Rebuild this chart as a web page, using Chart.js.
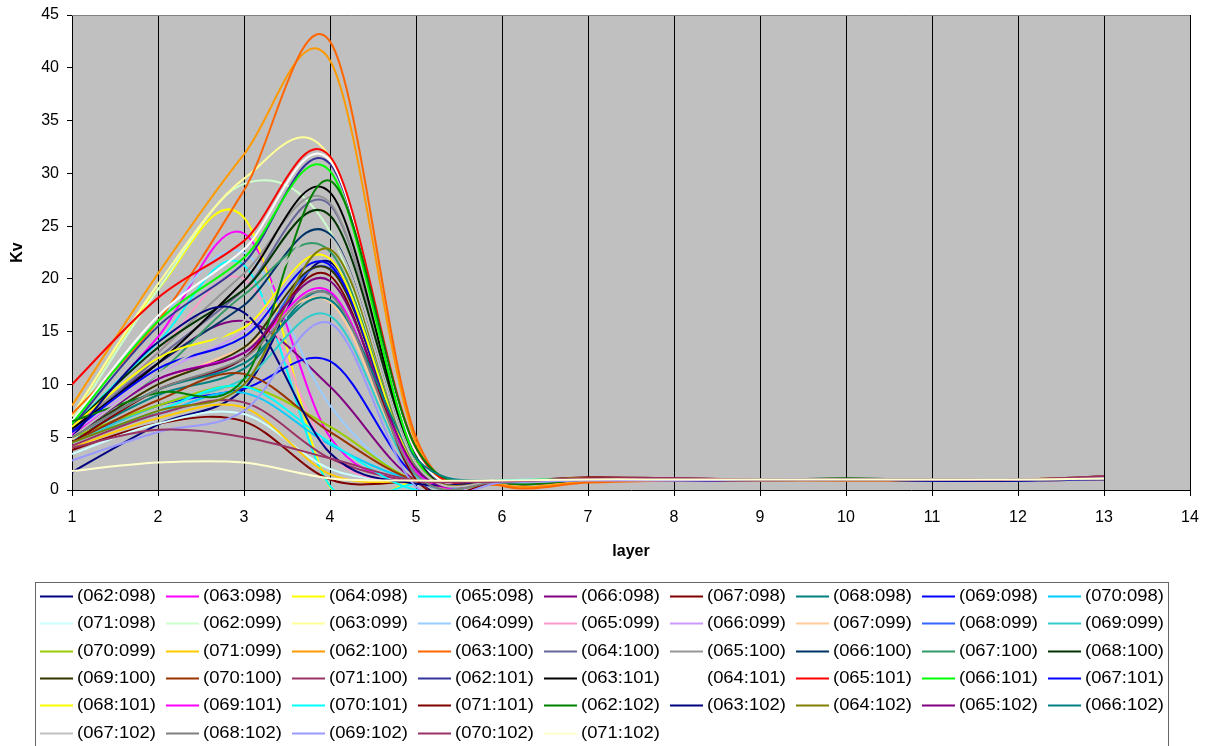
<!DOCTYPE html>
<html>
<head>
<meta charset="utf-8">
<script src="https://cdn.jsdelivr.net/npm/chart.js@4.4.1/dist/chart.umd.min.js"></script>
<style>
  html, body { margin: 0; padding: 0; background: #fff; }
  #wrap { width: 1206px; height: 746px; }
</style>
</head>
<body>
<div id="wrap"><canvas id="myChart" width="1206" height="746"></canvas></div>
<script>
// layers on the x axis
const layers = [1, 2, 3, 4, 5, 6, 7, 8, 9, 10, 11, 12, 13];
const xTicks = [1, 2, 3, 4, 5, 6, 7, 8, 9, 10, 11, 12, 13, 14];
const yTicks = [0, 5, 10, 15, 20, 25, 30, 35, 40, 45];

const seriesLabels = [
  '(062:098)', '(063:098)', '(064:098)', '(065:098)', '(066:098)', '(067:098)', '(068:098)', '(069:098)', '(070:098)', '(071:098)',
  '(062:099)', '(063:099)', '(064:099)', '(065:099)', '(066:099)', '(067:099)', '(068:099)', '(069:099)', '(070:099)', '(071:099)',
  '(062:100)', '(063:100)', '(064:100)', '(065:100)', '(066:100)', '(067:100)', '(068:100)', '(069:100)', '(070:100)', '(071:100)',
  '(062:101)', '(063:101)', '(064:101)', '(065:101)', '(066:101)', '(067:101)', '(068:101)', '(069:101)', '(070:101)', '(071:101)',
  '(062:102)', '(063:102)', '(064:102)', '(065:102)', '(066:102)', '(067:102)', '(068:102)', '(069:102)', '(070:102)', '(071:102)'
];

// Kv per layer, one array per series
const v062_098 = [1.7, 6.2, 9.6, 21.6, 1.2, 0.7, 0.9, 0.9, 0.9, 1.0, 0.9, 0.9, 1.1];
const v063_098 = [5.5, 14.5, 24.3, 5.0, 0.7, 0.8, 1.0, 1.0, 1.0, 1.0, 0.9, 0.9, 1.2];
const v064_098 = [7.0, 19.0, 25.8, 0.3, 0.8, 0.8, 1.1, 1.0, 0.9, 1.0, 0.9, 1.0, 1.2];
const v065_098 = [6.0, 14.0, 21.3, 0.4, 0.6, 0.8, 1.0, 1.0, 1.0, 0.9, 0.9, 0.9, 1.1];
const v066_098 = [5.5, 12.0, 16.0, 9.8, 0.9, 0.8, 1.1, 1.1, 1.0, 1.0, 1.0, 0.9, 1.1];
const v067_098 = [3.8, 6.3, 6.5, 1.0, 0.8, 0.8, 1.2, 1.1, 1.0, 1.0, 0.9, 0.9, 1.3];
const v068_098 = [4.8, 9.0, 11.5, 18.6, 1.6, 0.7, 1.0, 1.0, 0.9, 1.0, 1.0, 1.0, 1.1];
const v069_098 = [4.5, 8.0, 9.6, 12.2, 1.3, 0.9, 1.0, 0.9, 0.9, 1.0, 0.9, 0.9, 1.0];
const v070_098 = [4.8, 7.2, 9.2, 4.3, 0.9, 0.8, 1.0, 1.0, 1.0, 0.9, 0.9, 1.0, 1.1];
const v071_098 = [3.4, 6.3, 7.2, 2.0, 0.8, 0.9, 1.1, 1.0, 1.0, 1.0, 1.0, 1.0, 1.2];
const v062_099 = [6.5, 19.0, 29.0, 24.5, 1.2, 0.8, 1.0, 1.0, 1.0, 1.0, 0.9, 0.9, 1.1];
const v063_099 = [7.0, 19.5, 29.5, 31.5, 2.6, 0.8, 1.1, 1.0, 1.0, 1.0, 1.0, 1.0, 1.2];
const v064_099 = [6.5, 16.0, 22.5, 8.0, 0.8, 0.9, 1.0, 1.0, 0.9, 0.9, 0.9, 0.9, 1.1];
const v065_099 = [5.5, 13.0, 20.0, 3.5, 0.8, 0.8, 1.0, 1.0, 1.0, 1.0, 0.9, 0.9, 1.0];
const v066_099 = [5.3, 11.0, 15.0, 22.0, 1.8, 0.7, 1.0, 1.0, 1.0, 1.0, 1.0, 0.9, 1.2];
const v067_099 = [4.8, 10.0, 13.5, 17.8, 1.5, 0.8, 1.0, 1.0, 1.0, 1.0, 1.0, 1.0, 1.1];
const v068_099 = [5.0, 9.5, 12.5, 21.0, 1.8, 0.8, 1.0, 1.0, 1.0, 0.9, 0.9, 0.9, 1.0];
const v069_099 = [4.5, 8.0, 10.5, 16.5, 1.3, 0.8, 1.0, 1.0, 1.0, 1.0, 0.9, 0.9, 1.1];
const v070_099 = [5.0, 8.0, 9.8, 6.0, 0.9, 0.9, 1.1, 1.0, 1.0, 1.0, 1.0, 1.0, 1.3];
const v071_099 = [4.0, 6.8, 7.8, 1.5, 0.8, 0.8, 1.1, 1.0, 1.0, 1.0, 1.0, 0.9, 1.2];
const v062_100 = [8.0, 20.5, 31.8, 40.7, 4.5, 0.5, 0.8, 1.0, 1.0, 0.9, 0.9, 0.9, 1.0];
const v063_100 = [7.2, 16.0, 28.4, 42.5, 5.0, 0.4, 0.7, 0.9, 0.9, 0.9, 0.9, 0.9, 1.0];
const v064_100 = [5.5, 12.5, 19.0, 27.0, 3.0, 0.7, 1.0, 1.0, 1.0, 1.0, 0.9, 0.9, 1.1];
const v065_100 = [5.5, 13.0, 20.5, 27.2, 3.0, 0.8, 1.0, 1.0, 1.0, 1.0, 1.0, 0.9, 1.1];
const v066_100 = [5.5, 12.0, 17.5, 24.2, 2.5, 0.8, 1.0, 1.0, 1.0, 1.0, 1.0, 1.0, 1.1];
const v067_100 = [5.0, 11.0, 18.5, 22.6, 2.2, 0.8, 1.0, 1.0, 1.0, 1.0, 0.9, 0.9, 1.1];
const v068_100 = [6.0, 13.5, 19.0, 26.0, 3.2, 0.7, 1.0, 1.0, 1.0, 1.1, 1.0, 1.0, 1.2];
const v069_100 = [5.0, 10.0, 13.5, 20.9, 2.0, 0.8, 1.0, 1.0, 1.0, 1.0, 1.0, 1.0, 1.1];
const v070_100 = [4.5, 8.5, 11.0, 5.5, 0.9, 0.8, 1.1, 1.0, 1.0, 1.0, 1.0, 1.0, 1.2];
const v071_100 = [4.2, 7.2, 8.3, 3.0, 0.8, 0.8, 1.1, 1.1, 1.0, 1.0, 1.0, 1.0, 1.3];
const v062_101 = [6.0, 15.5, 21.5, 30.9, 3.5, 0.7, 1.0, 1.0, 1.0, 1.0, 0.9, 0.9, 1.1];
const v063_101 = [5.8, 12.0, 19.8, 28.2, 3.0, 0.7, 1.0, 1.0, 1.0, 1.0, 1.0, 1.0, 1.1];
const v064_101 = [6.5, 16.5, 22.8, 31.2, 3.6, 0.8, 1.0, 1.0, 1.0, 1.0, 1.0, 1.0, 1.2];
const v065_101 = [10.0, 18.2, 23.6, 31.6, 4.0, 0.7, 1.0, 1.0, 1.0, 1.0, 1.0, 1.0, 1.1];
const v066_101 = [6.3, 16.0, 22.0, 30.2, 3.0, 0.7, 1.0, 1.0, 1.0, 1.0, 1.0, 1.0, 1.1];
const v067_101 = [5.5, 11.5, 14.5, 21.3, 2.0, 0.8, 1.0, 1.0, 1.0, 1.0, 0.9, 0.9, 1.0];
const v068_101 = [6.0, 12.5, 15.4, 21.9, 2.0, 0.8, 1.0, 1.0, 1.0, 1.0, 1.0, 1.0, 1.2];
const v069_101 = [5.2, 10.5, 13.0, 18.8, 1.8, 0.8, 1.0, 1.0, 1.0, 1.0, 1.0, 1.0, 1.1];
const v070_101 = [4.5, 7.5, 9.8, 4.5, 0.0, 0.9, 1.0, 1.0, 1.0, 1.0, 1.0, 1.0, 1.1];
const v071_101 = [4.5, 9.5, 12.5, 20.3, 1.0, 0.8, 1.1, 1.0, 1.0, 1.0, 1.0, 1.0, 1.2];
const v062_102 = [6.5, 9.2, 10.5, 29.3, 4.0, 0.7, 1.0, 1.0, 1.0, 1.1, 1.0, 1.0, 1.1];
const v063_102 = [5.0, 14.0, 16.8, 3.5, 0.6, 0.8, 1.0, 1.0, 1.0, 1.0, 0.9, 0.9, 1.1];
const v064_102 = [4.5, 7.5, 10.0, 22.8, 2.5, 0.8, 1.0, 1.0, 1.0, 1.0, 1.0, 1.0, 1.1];
const v065_102 = [5.0, 10.5, 13.0, 19.8, 2.0, 0.8, 1.0, 1.0, 1.0, 1.0, 1.0, 1.0, 1.1];
const v066_102 = [5.0, 9.5, 12.0, 18.0, 3.0, 0.8, 1.0, 1.0, 1.0, 1.0, 1.0, 1.0, 1.1];
const v067_102 = [5.0, 11.0, 16.0, 24.0, 2.5, 0.8, 1.0, 1.0, 1.0, 1.0, 1.0, 1.0, 1.1];
const v068_102 = [5.0, 9.5, 12.5, 18.5, 1.5, 0.8, 1.0, 1.0, 1.0, 1.0, 1.0, 1.0, 1.0];
const v069_102 = [2.8, 5.5, 7.5, 15.8, 0.3, 0.7, 0.9, 0.9, 1.0, 1.0, 1.0, 1.0, 1.1];
const v070_102 = [4.0, 5.7, 5.0, 3.0, 0.9, 0.8, 1.1, 1.1, 1.0, 1.0, 1.0, 1.0, 1.3];
const v071_102 = [1.8, 2.6, 2.6, 1.1, 0.9, 0.9, 1.0, 1.0, 1.0, 1.0, 1.0, 1.0, 1.1];

const seriesValues = [
  v062_098, v063_098, v064_098, v065_098, v066_098, v067_098, v068_098, v069_098, v070_098, v071_098,
  v062_099, v063_099, v064_099, v065_099, v066_099, v067_099, v068_099, v069_099, v070_099, v071_099,
  v062_100, v063_100, v064_100, v065_100, v066_100, v067_100, v068_100, v069_100, v070_100, v071_100,
  v062_101, v063_101, v064_101, v065_101, v066_101, v067_101, v068_101, v069_101, v070_101, v071_101,
  v062_102, v063_102, v064_102, v065_102, v066_102, v067_102, v068_102, v069_102, v070_102, v071_102
];

// excel style line colours
const palette = [
  '#000080', '#FF00FF', '#FFFF00', '#00FFFF', '#800080', '#800000', '#008080', '#0000FF', '#00CCFF', '#CCFFFF',
  '#CCFFCC', '#FFFF99', '#99CCFF', '#FF99CC', '#CC99FF', '#FFCC99', '#3366FF', '#33CCCC', '#99CC00', '#FFCC00',
  '#FF9900', '#FF6600', '#666699', '#969696', '#003366', '#339966', '#003300', '#333300', '#993300', '#993366',
  '#333399', '#000000', '#FFFFFF', '#FF0000', '#00FF00', '#0000FF', '#FFFF00', '#FF00FF', '#00FFFF', '#800000',
  '#008000', '#000080', '#808000', '#800080', '#008080', '#C0C0C0', '#808080', '#9999FF', '#993366', '#FFFFCC'
];

const FONT = "'Liberation Sans', Arial, sans-serif";

const datasets = seriesValues.map((vals, i) => ({
  label: seriesLabels[i],
  data: layers.map((l, j) => ({ x: l, y: vals[j] })),
  borderColor: palette[i],
  backgroundColor: palette[i],
  borderWidth: 2,
  pointRadius: 0,
  tension: 0.4,
  fill: false,
  order: seriesValues.length - i
}));

// excel smoothing is a plain catmull-rom, redo the control points that way
const excelSmooth = {
  id: 'excelSmooth',
  beforeDatasetsDraw(chart) {
    chart.getSortedVisibleDatasetMetas().forEach(meta => {
      meta.dataset.updateControlPoints(chart.chartArea, 'x');
      const pts = meta.data;
      for (let i = 0; i < pts.length; i++) {
        const p = pts[i];
        const prev = pts[Math.max(i - 1, 0)];
        const next = pts[Math.min(i + 1, pts.length - 1)];
        const dx = (next.x - prev.x) / 6, dy = (next.y - prev.y) / 6;
        p.cp1x = p.x - dx; p.cp1y = p.y - dy;
        p.cp2x = p.x + dx; p.cp2y = p.y + dy;
      }
    });
  }
};

const plotBg = {
  id: 'plotBg',
  beforeDraw(chart) {
    const { ctx, chartArea: a } = chart;
    ctx.save();
    ctx.fillStyle = '#C0C0C0';
    ctx.fillRect(a.left, a.top, a.right - a.left, a.bottom - a.top);
    ctx.restore();
  },
  afterDraw(chart) {
    const { ctx, chartArea: a } = chart;
    ctx.save();
    ctx.strokeStyle = '#808080';
    ctx.lineWidth = 1;
    ctx.beginPath();
    ctx.moveTo(a.left, a.top + 0.5);
    ctx.lineTo(a.right, a.top + 0.5);
    ctx.stroke();
    ctx.restore();
  }
};

const gridLegend = {
  id: 'gridLegend',
  afterDraw(chart) {
    const ctx = chart.ctx;
    ctx.save();
    ctx.strokeStyle = '#666';
    ctx.lineWidth = 1;
    ctx.strokeRect(35.5, 582.5, 1133, 200);
    ctx.font = '16px ' + FONT;
    ctx.textBaseline = 'middle';
    ctx.fillStyle = '#000';
    chart.data.datasets.forEach((ds, i) => {
      const c = i % 9, r = Math.floor(i / 9);
      const lx = 40 + c * 126;
      const ly = Math.round(596 + r * 27.3) + 0.5;
      ctx.strokeStyle = ds.borderColor;
      ctx.lineWidth = 2;
      ctx.beginPath();
      ctx.moveTo(lx, ly);
      ctx.lineTo(lx + 33, ly);
      ctx.stroke();
      ctx.save();
      ctx.translate(lx + 37, ly);
      ctx.scale(1.15, 1);
      ctx.fillText(ds.label, 0, 0);
      ctx.restore();
    });
    ctx.restore();
  }
};

new Chart(document.getElementById('myChart'), {
  type: 'line',
  data: { datasets },
  options: {
    responsive: false,
    animation: false,
    devicePixelRatio: 1,
    layout: { padding: { left: 0, top: 15, right: 16, bottom: 181 } },
    elements: { line: { capBezierPoints: false } },
    plugins: {
      legend: { display: false },
      tooltip: { enabled: false }
    },
    scales: {
      x: {
        type: 'linear',
        min: 1,
        max: 14,
        afterBuildTicks(scale) { scale.ticks = xTicks.map(v => ({ value: v })); },
        afterFit(scale) { scale.height = 75; scale.paddingLeft = 5; scale.paddingRight = 10; },
        ticks: { color: '#000', font: { family: FONT, size: 16 }, padding: 12, maxRotation: 0 },
        grid: { color: '#000', lineWidth: 1, tickLength: 6 },
        border: { color: '#000', width: 1 },
        title: { display: true, text: 'layer', color: '#000', font: { family: FONT, size: 16, weight: 'bold' }, padding: { top: 14, bottom: 4 } }
      },
      y: {
        min: 0,
        max: 45,
        afterBuildTicks(scale) { scale.ticks = yTicks.map(v => ({ value: v })); },
        afterFit(scale) { scale.width = 72; scale.paddingTop = 9; scale.paddingBottom = 9; },
        ticks: { color: '#000', font: { family: FONT, size: 16 }, padding: 8 },
        grid: { drawOnChartArea: false, color: '#000', tickLength: 5 },
        border: { color: '#000', width: 1 },
        title: { display: true, text: 'Kv', color: '#000', font: { family: FONT, size: 16, weight: 'bold' }, padding: { top: 8, bottom: 4 } }
      }
    }
  },
  plugins: [excelSmooth, plotBg, gridLegend]
});
</script>
</body>
</html>
